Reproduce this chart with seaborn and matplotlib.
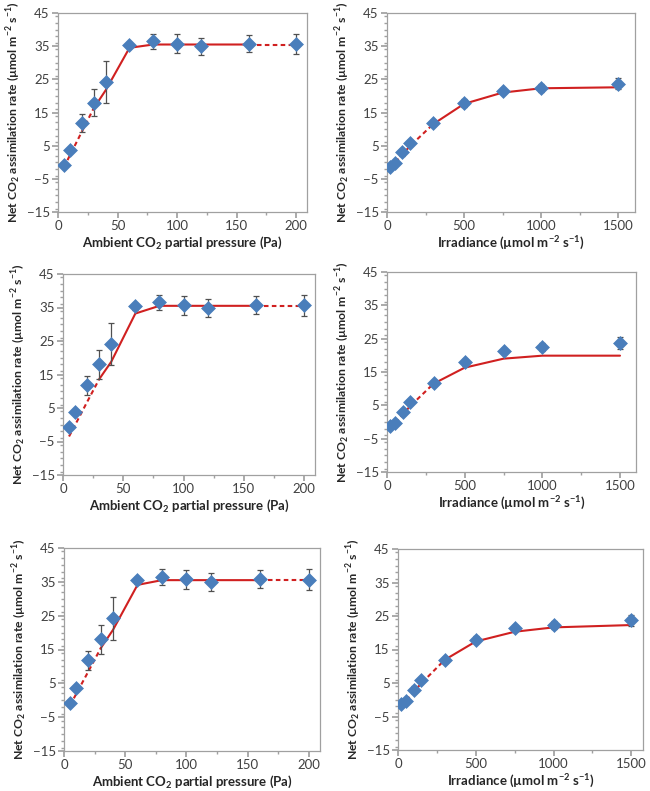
import matplotlib
matplotlib.use("Agg")
import matplotlib.pyplot as plt
from matplotlib.ticker import MultipleLocator
import seaborn as sns
import pandas as pd

# measured data (same in all panels)
co2_x = [5, 10, 20, 30, 40, 60, 80, 100, 120, 160, 200]
co2_y = [-0.8, 3.7, 11.8, 18.0, 24.2, 35.4, 36.5, 35.7, 34.9, 35.8, 35.6]
co2_err = [0.5, 0.6, 2.8, 4.2, 6.3, 1.0, 2.3, 2.85, 2.7, 2.7, 3.05]

light_x = [20, 50, 100, 150, 300, 500, 750, 1000, 1500]
light_y = [-1.3, -0.3, 3.0, 5.9, 11.8, 17.9, 21.4, 22.4, 23.7]
light_err = [0.5, 0.5, 1.0, 0.7, 0.9, 1.1, 0.9, 1.2, 1.7]

# model predictions, one per row
co2_model_1 = [-1.5, 2.1, 9.2, 16.3, 21.7, 34.5, 35.5, 35.5, 35.5, 35.5, 35.5]
co2_model_2 = [-3.5, -0.1, 6.8, 13.6, 18.8, 33.2, 35.5, 35.5, 35.5, 35.5, 35.5]
co2_model_3 = [-1.5, 1.9, 8.6, 15.4, 20.8, 34.1, 35.5, 35.5, 35.5, 35.5, 35.5]

light_model_1 = [-1.7, -0.2, 2.4, 4.9, 11.5, 17.6, 21.0, 22.3, 22.6]
light_model_2 = [-2.0, -0.6, 2.2, 4.8, 11.5, 16.3, 19.0, 19.9, 19.9]
light_model_3 = [-1.9, -0.4, 2.3, 4.9, 11.9, 17.4, 20.3, 21.6, 22.3]

# dashed / solid pieces of the model line (index ranges)
co2_pieces = [(0, 3, "--"), (3, 9, "-"), (9, 10, "--")]
light_pieces = [(0, 4, "--"), (4, 8, "-")]

sns.set_theme(style="ticks")
plt.rcParams["font.family"] = ["Lato", "DejaVu Sans"]
plt.rcParams["mathtext.fontset"] = "custom"
plt.rcParams["mathtext.rm"] = "Lato"
plt.rcParams["mathtext.bf"] = "Lato:bold"

BLUE = "#4a7ebb"
RED = "#d02020"
GRAY = "#a0a0a0"
TXT = "#404040"

ylab = r"Net CO$_\mathbf{2}$ assimilation rate (µmol m$^\mathbf{-2}$ s$^\mathbf{-1}$)"
co2_lab = r"Ambient CO$_\mathbf{2}$ partial pressure (Pa)"
light_lab = r"Irradiance (µmol m$^\mathbf{-2}$ s$^\mathbf{-1}$)"

fig = plt.figure(figsize=(6.5, 7.91), dpi=100)

# axes boxes in pixels: left, top, right, bottom
boxes = [
    (58, 13, 307, 212), (387, 13, 635, 212),
    (63, 274, 315, 475), (387, 272, 636, 472),
    (64, 548, 320, 751), (398, 549, 643, 750),
]
W, H = 650, 791


def draw_panel(ax, x, y, err, model, pieces, xmax, xmajor, xminor, xlabel):
    df = pd.DataFrame({"x": x, "y": y, "model": model})
    for i0, i1, ls in pieces:
        sub = df.iloc[i0:i1 + 1]
        ln = sns.lineplot(data=sub, x="x", y="model", ax=ax, color=RED, lw=1.5,
                          sort=False, estimator=None, zorder=2)
        if ls == "--":
            ax.lines[-1].set_dashes((2.2, 1.6))
    ax.errorbar(x, y, yerr=err, fmt="none", ecolor="#505050", elinewidth=0.9,
                capsize=2.5, capthick=0.9, zorder=3)
    sns.scatterplot(data=df, x="x", y="y", ax=ax, marker="D", s=50, color=BLUE,
                    edgecolor=BLUE, linewidth=0.5, zorder=4)
    ax.set_ylim(-15, 45)
    ax.yaxis.set_minor_locator(MultipleLocator(2))
    ax.xaxis.set_minor_locator(MultipleLocator(xminor))
    ax.set_yticks([-15, -5, 5, 15, 25, 35, 45])
    ax.set_xticks(list(range(0, int(xmax), xmajor)))
    ax.set_xlim(0, xmax)
    ax.set_xlabel(xlabel, fontsize=9.5, fontweight="bold", color="#262626", labelpad=2)
    ax.set_ylabel(ylab, fontsize=8.8, fontweight="bold", color="#262626", labelpad=2)
    ax.tick_params(axis="both", which="major", labelsize=9.5, colors=GRAY,
                   labelcolor=TXT, length=4, direction="out", pad=2)
    ax.tick_params(axis="both", which="minor", colors=GRAY, length=2.5, direction="out")
    for sp in ax.spines.values():
        sp.set_color(GRAY)
        sp.set_linewidth(0.9)
        sp.set_visible(True)


models_co2 = [co2_model_1, co2_model_2, co2_model_3]
models_light = [light_model_1, light_model_2, light_model_3]
light_xmax = [1610, 1603, 1575]

for row in range(3):
    for col in range(2):
        l, t, r, b = boxes[row * 2 + col]
        ax = fig.add_axes([l / W, 1 - b / H, (r - l) / W, (b - t) / H])
        if col == 0:
            draw_panel(ax, co2_x, co2_y, co2_err, models_co2[row], co2_pieces,
                       209, 50, 25, co2_lab)
        else:
            draw_panel(ax, light_x, light_y, light_err, models_light[row], light_pieces,
                       light_xmax[row], 500, 250, light_lab)

fig.savefig("out.png", dpi=100)
